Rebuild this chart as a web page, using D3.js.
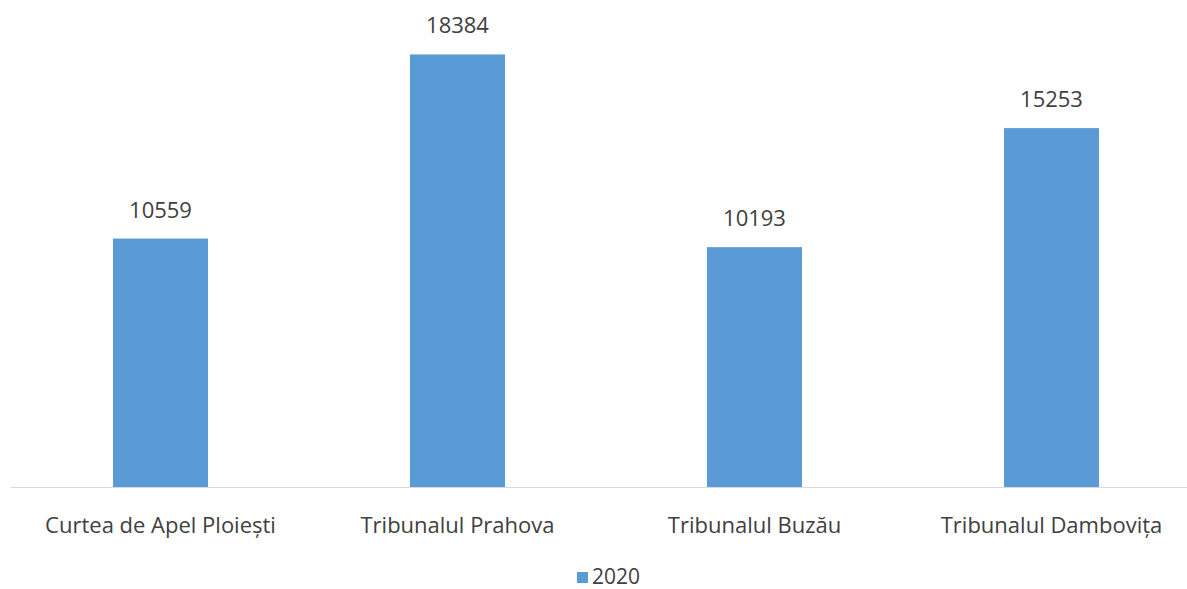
<!DOCTYPE html>
<html>
<head>
<meta charset="utf-8">
<script src="https://cdn.jsdelivr.net/npm/d3@7"></script>
<style>
  body { margin: 0; background: #fff; }
  text { font-family: "Open Sans", "Noto Sans", sans-serif; fill: #404040; }
</style>
</head>
<body>
<div id="chart"></div>
<script>
// date
var categories = ["Curtea de Apel Ploiești", "Tribunalul Prahova", "Tribunalul Buzău", "Tribunalul Dambovița"];
var values2020 = [10559, 18384, 10193, 15253];
var seriesName = "2020";

var width = 1187, height = 589;
var svg = d3.select("#chart").append("svg").attr("width", width).attr("height", height);

var x = d3.scaleBand().domain(categories).range([12, 1200]).paddingInner(0.68).paddingOuter(0.34);
var y = d3.scaleLinear().domain([0, 20000]).range([487, 16.4]);

// bare
svg.selectAll("rect.bar").data(values2020).enter().append("rect")
  .attr("class", "bar")
  .attr("x", function(d, i) { return x(categories[i]); })
  .attr("y", function(d) { return y(d); })
  .attr("width", x.bandwidth())
  .attr("height", function(d) { return y(0) - y(d); })
  .attr("fill", "#5b9bd5");

// etichete valori
svg.selectAll("text.val").data(values2020).enter().append("text")
  .attr("class", "val")
  .attr("x", function(d, i) { return x(categories[i]) + x.bandwidth() / 2; })
  .attr("y", function(d) { return y(d) - 21; })
  .attr("text-anchor", "middle")
  .style("font-size", "22px")
  .text(function(d) { return d; });

// axa X
var xAxis = svg.append("g").attr("transform", "translate(0," + y(0) + ")")
  .call(d3.axisBottom(x).tickSize(0).tickPadding(30));
xAxis.select(".domain").attr("stroke", "#d9d9d9").attr("d", "M11,0.5H1187");
xAxis.attr("font-family", null);
xAxis.selectAll("text").style("font-size", "22px").style("fill", "#404040");

// legenda
var legend = svg.append("g").attr("transform", "translate(577,572)");
legend.append("rect").attr("width", 11).attr("height", 11).attr("fill", "#5b9bd5");
legend.append("text").attr("x", 15).attr("y", 12)
  .style("font-size", "21px").text(seriesName);
</script>
</body>
</html>
